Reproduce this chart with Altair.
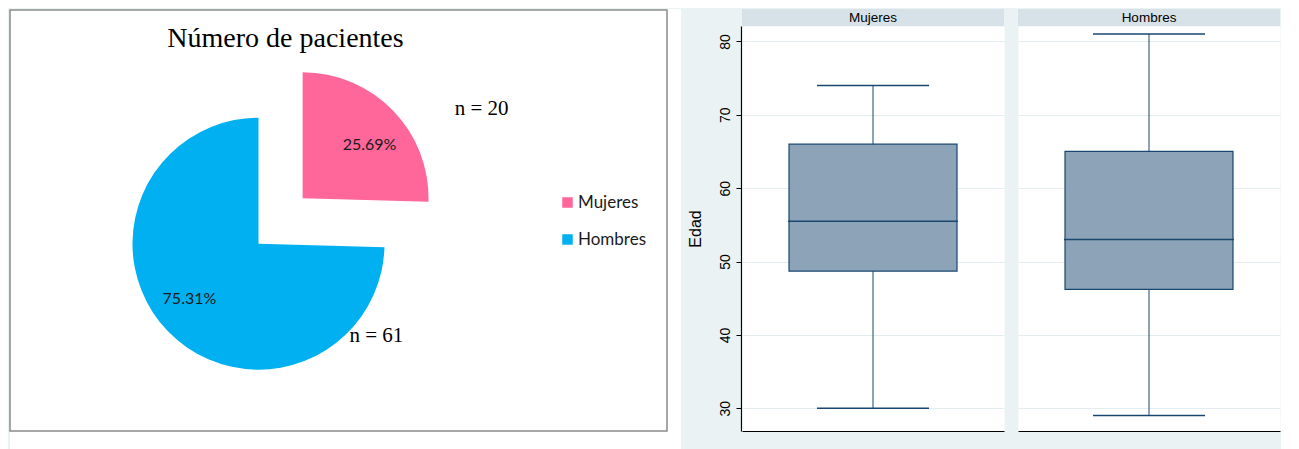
import altair as alt
import pandas as pd

# ---------------- Pie: número de pacientes ----------------
sexo = ["Mujeres", "Hombres"]
porcentaje = [25.69, 75.31]
n_pacientes = [20, 61]
orden = [1, 2]
etiqueta_pct = ["25.69%", "75.31%"]
titulo_pie = "Número de pacientes"

# ---------------- Box plots: edad por sexo ----------------
grupo = ["Mujeres", "Hombres"]
edad_min = [30, 29]
edad_q1 = [48.7, 46.2]
edad_med = [55.5, 53.0]
edad_q3 = [66.0, 65.0]
edad_max = [74, 81]
edad_ticks = [30, 40, 50, 60, 70, 80]

PINK = "#FF6699"
BLUE = "#00B0F0"
NAVY = "#1A476F"
BOXFILL = "#8DA3B7"
OUTER = "#EAF2F3"
STRIP = "#D6E2E8"

pie_df = pd.DataFrame({
    "sexo": sexo,
    "pct": porcentaje,
    "orden": orden,
    "label": etiqueta_pct,
    "n": [f"n = {v}" for v in n_pacientes],
})
title_df = pd.DataFrame({"t": [titulo_pie]})

LW, LH = 657, 405
TOP = -16                     # the framed panel starts above the view origin
R = 126
BCX, BCY = 248.5, 217.7      # centre of the Hombres slice
PCX, PCY = 292.6, 172.3      # centre of the exploded Mujeres slice

color = alt.Color(
    "sexo:N",
    scale=alt.Scale(domain=sexo, range=[PINK, BLUE]),
    legend=alt.Legend(
        orient="none", legendX=549, legendY=168, title=None,
        symbolType="square", symbolSize=110, symbolStrokeWidth=0,
        labelFont="Lato", labelFontSize=17, labelColor="#1a1a1a",
        rowPadding=19, labelOffset=2, padding=0,
    ),
)
theta = alt.Theta("pct:Q", stack=True)
order = alt.Order("orden:Q", sort="ascending")
show_h = alt.condition("datum.sexo == 'Hombres'", alt.value(1), alt.value(0))
show_m = alt.condition("datum.sexo == 'Mujeres'", alt.value(1), alt.value(0))

# white surround of the left panel (page background of the original figure)
surround = alt.Chart(title_df).mark_rect(fill="white").encode(
    x=alt.value(0), x2=alt.value(LW + 14), y=alt.value(-17), y2=alt.value(LH + 20))
frame = alt.Chart(title_df).mark_rect(fill="white", stroke="#8A8A8A", strokeWidth=1.5).encode(
    x=alt.value(0), x2=alt.value(LW), y=alt.value(TOP), y2=alt.value(LH))

pie_base = alt.Chart(pie_df)
arc_h = pie_base.mark_arc(radius=R).encode(
    theta=theta, order=order, color=color, opacity=show_h,
    x=alt.value(BCX), y=alt.value(BCY))
arc_m = pie_base.mark_arc(radius=R).encode(
    theta=theta, order=order, color=color, opacity=show_m,
    x=alt.value(PCX), y=alt.value(PCY))
pct_h = pie_base.mark_text(radius=88, dx=-6, dy=-6, font="Lato", fontSize=16, color="#1a1a1a").encode(
    theta=theta, order=order, text="label:N", opacity=show_h,
    x=alt.value(BCX), y=alt.value(BCY))
pct_m = pie_base.mark_text(radius=85, dx=6, dy=6, font="Lato", fontSize=16, color="#1a1a1a").encode(
    theta=theta, order=order, text="label:N", opacity=show_m,
    x=alt.value(PCX), y=alt.value(PCY))
n_m = pie_base.transform_filter("datum.sexo == 'Mujeres'").mark_text(
    font="Liberation Serif", fontSize=21, color="#000", baseline="alphabetic"
).encode(text="n:N", x=alt.value(471.6), y=alt.value(89))
n_h = pie_base.transform_filter("datum.sexo == 'Hombres'").mark_text(
    font="Liberation Serif", fontSize=21, color="#000", baseline="alphabetic"
).encode(text="n:N", x=alt.value(366.4), y=alt.value(316))
title = alt.Chart(title_df).mark_text(
    font="Liberation Serif", fontSize=28, color="#000", baseline="alphabetic"
).encode(text="t:N", x=alt.value(275.5), y=alt.value(21))

left = alt.layer(surround, frame, arc_h, arc_m, pct_h, pct_m, n_m, n_h, title).properties(
    width=LW, height=LH,
)

# ---------------- right: box plots ----------------
box_df = pd.DataFrame({
    "grupo": grupo, "lo": edad_min, "q1": edad_q1,
    "med": edad_med, "q3": edad_q3, "hi": edad_max,
})
CW, CH = 262, 405
yscale = alt.Scale(domain=[26.9, 82.1], nice=False, zero=False)
yaxis = alt.Axis(
    values=edad_ticks, title="Edad",
    labelAngle=270, labelAlign="center", labelBaseline="bottom",
    labelFont="Liberation Sans", labelFontSize=14, labelColor="#000", labelPadding=4,
    tickColor="#000", tickSize=5, tickWidth=1,
    domainColor="#000", domainWidth=1.2,
    gridColor="#E3ECEF", gridWidth=1,
    titleFont="Liberation Sans", titleFontSize=16, titleFontWeight="normal",
    titleColor="#000", titlePadding=15,
)
xenc = alt.X(
    "grupo:N", title=None,
    scale=alt.Scale(paddingInner=0, paddingOuter=0),
    axis=alt.Axis(labels=False, ticks=False, grid=False, domainColor="#000", domainWidth=1.2),
)

strip = alt.Chart().mark_rect(color=STRIP).encode(
    x=alt.value(0), x2=alt.value(CW), y=alt.value(-17), y2=alt.value(0))
strip_txt = alt.Chart().mark_text(font="Liberation Sans", fontSize=13.5, color="#000").encode(
    text="grupo:N", x=alt.value(CW / 2), y=alt.value(-8.5))
whisk = alt.Chart().mark_rule(color=NAVY, strokeWidth=1).encode(
    x=xenc, y=alt.Y("lo:Q", scale=yscale, axis=yaxis), y2="hi:Q")
box = alt.Chart().mark_bar(size=168, fill=BOXFILL, stroke=NAVY, strokeWidth=1.2).encode(
    x=xenc, y=alt.Y("q1:Q", scale=yscale, axis=yaxis), y2="q3:Q")
med = alt.Chart().mark_tick(size=170, thickness=1.5, color=NAVY, opacity=1).encode(
    x=xenc, y=alt.Y("med:Q", scale=yscale, axis=yaxis))
cap_lo = alt.Chart().mark_tick(size=112, thickness=1.5, color=NAVY, opacity=1).encode(
    x=xenc, y=alt.Y("lo:Q", scale=yscale, axis=yaxis))
cap_hi = alt.Chart().mark_tick(size=112, thickness=1.5, color=NAVY, opacity=1).encode(
    x=xenc, y=alt.Y("hi:Q", scale=yscale, axis=yaxis))

right = alt.layer(strip, strip_txt, whisk, box, med, cap_lo, cap_hi, data=box_df).properties(
    width=CW, height=CH
).facet(
    column=alt.Column("grupo:N", sort=grupo, header=None), spacing=12
).resolve_scale(x="independent")

chart = alt.hconcat(left, right, spacing=5).properties(
    background=OUTER, padding=0
).configure_view(stroke="transparent", fill="white")

chart.save("out.html", embed_options={"renderer": "svg", "actions": False})
